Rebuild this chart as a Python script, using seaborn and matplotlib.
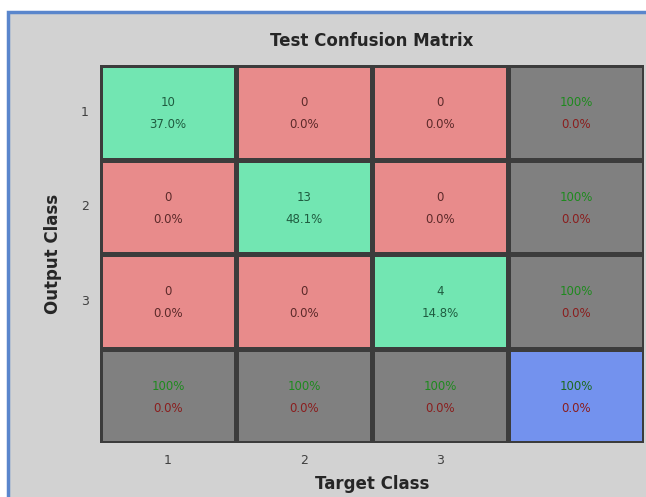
import numpy as np
import matplotlib
matplotlib.use("Agg")
import matplotlib.pyplot as plt
from matplotlib.colors import ListedColormap
from matplotlib.patches import Rectangle
import seaborn as sns

# Values
classes = ["1", "2", "3"]
counts = [[10, 0, 0],
          [0, 13, 0],
          [0, 0, 4]]
cell_pct = [["37.0%", "0.0%", "0.0%"],
            ["0.0%", "48.1%", "0.0%"],
            ["0.0%", "0.0%", "14.8%"]]
row_correct = ["100%", "100%", "100%"]
row_wrong = ["0.0%", "0.0%", "0.0%"]
col_correct = ["100%", "100%", "100%"]
col_wrong = ["0.0%", "0.0%", "0.0%"]
total_correct = "100%"
total_wrong = "0.0%"

n = len(classes)

# colour codes: 0 = correct, 1 = wrong, 2 = summary, 3 = overall
codes = np.ones((n + 1, n + 1))
for i in range(n):
    codes[i, i] = 0
codes[n, :] = 2
codes[:, n] = 2
codes[n, n] = 3

cmap = ListedColormap(["#72e6b2", "#e88b8b", "#808080", "#7392ee"])

sns.set_style("white")
plt.rcParams['font.family'] = ['DejaVu Sans']

fig = plt.figure(figsize=(6.46, 4.97), dpi=100)
fig.patch.set_facecolor("white")

# grey window panel with blue border
fig.patches.append(Rectangle((8 / 646, -0.05), 1.0, 1 - 12 / 497 + 0.05,
                             transform=fig.transFigure, facecolor="#d2d2d2",
                             edgecolor="#5a86cc", linewidth=2.5, zorder=-1))

ax = fig.add_axes([100 / 646, 54 / 497, 544 / 646, 378 / 497])

sns.heatmap(
    codes,
    cmap=cmap,
    vmin=-0.5,
    vmax=3.5,
    cbar=False,
    linewidths=2.2,
    linecolor="#3c3c3c",
    ax=ax
)

fs = 8.5
for i in range(n):
    for j in range(n):
        tc = "#1f5c40" if i == j else "#5c2a2a"
        ax.text(j + 0.5, i + 0.40, str(counts[i][j]), ha="center", va="center",
                fontsize=fs, color=tc)
        ax.text(j + 0.5, i + 0.63, cell_pct[i][j], ha="center", va="center",
                fontsize=fs, color=tc)
    # right summary column
    ax.text(n + 0.5, i + 0.40, row_correct[i], ha="center", va="center",
            fontsize=fs, color="#1e8a1e")
    ax.text(n + 0.5, i + 0.63, row_wrong[i], ha="center", va="center",
            fontsize=fs, color="#8a1e1e")
    # bottom summary row
    ax.text(i + 0.5, n + 0.40, col_correct[i], ha="center", va="center",
            fontsize=fs, color="#1e8a1e")
    ax.text(i + 0.5, n + 0.63, col_wrong[i], ha="center", va="center",
            fontsize=fs, color="#8a1e1e")

ax.text(n + 0.5, n + 0.40, total_correct, ha="center", va="center",
        fontsize=fs, color="#1e6a1e")
ax.text(n + 0.5, n + 0.63, total_wrong, ha="center", va="center",
        fontsize=fs, color="#8a1e1e")

ax.set_xticks(np.arange(n) + 0.5)
ax.set_xticklabels(classes, fontsize=9, color="#404040")
ax.set_yticks(np.arange(n) + 0.5)
ax.set_yticklabels(classes, fontsize=9, color="#404040", rotation=0)
ax.tick_params(length=0, pad=8)

ax.set_title("Test Confusion Matrix", fontsize=12, fontweight="bold", pad=14)
ax.set_xlabel("Target Class", fontsize=12, fontweight="bold", labelpad=6)
ax.set_ylabel("Output Class", fontsize=12, fontweight="bold", labelpad=14)

plt.savefig("out.png", dpi=100, facecolor=fig.get_facecolor())
